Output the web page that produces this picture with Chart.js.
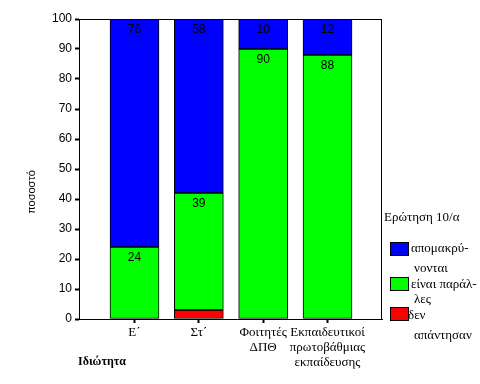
<!DOCTYPE html>
<html>
<head>
<meta charset="utf-8">
<script src="https://cdn.jsdelivr.net/npm/chart.js@4"></script>
<style>
html,body{margin:0;padding:0;background:#fff;}
#wrap{width:480px;height:384px;position:relative;}
</style>
</head>
<body>
<div id="wrap"><canvas id="c" width="480" height="384"></canvas></div>
<script>
const categories = [["Ε΄"], ["Στ΄"], ["Φοιτητές", "ΔΠΘ"], ["Εκπαιδευτικοί", "πρωτοβάθμιας", "εκπαίδευσης"]];
const noAnswer = [0, 3, 0, 0];
const parallel = [24, 39, 90, 88];
const diverge = [76, 58, 10, 12];
const yTicks = [0, 10, 20, 30, 40, 50, 60, 70, 80, 90, 100];
const seriesLabels = [["απομακρύ-", "νονται"], ["είναι παράλ-", "λες"], ["δεν", "απάντησαν"]];
const legendTitle = "Ερώτηση 10/α";
const xTitle = "Ιδιώτητα";
const yTitle = "ποσοστό";

const toPts = arr => arr.map((v, i) => ({x: i, y: v}));

const extras = {
  id: 'extras',
  afterDatasetsDraw(chart) {
    const ctx = chart.ctx;
    const a = chart.chartArea;
    ctx.save();
    ctx.strokeStyle = '#000';
    ctx.lineWidth = 1;
    ctx.strokeRect(Math.round(a.left) + 0.5, Math.round(a.top) + 0.5, Math.round(a.right - a.left) - 1, Math.round(a.bottom - a.top));
    ctx.fillStyle = '#000';
    ctx.font = '12px "Liberation Sans", Arial, sans-serif';
    ctx.textAlign = 'center';
    ctx.textBaseline = 'middle';
    [1, 2].forEach(di => {
      const meta = chart.getDatasetMeta(di);
      const ds = chart.data.datasets[di];
      meta.data.forEach((el, i) => {
        const v = ds.data[i].y;
        if (!v) return;
        ctx.fillText(String(v), el.x, el.y + 11);
      });
    });
    ctx.restore();
  },
  afterDraw(chart) {
    const ctx = chart.ctx;
    ctx.save();
    ctx.fillStyle = '#000';
    ctx.font = '11px "Liberation Sans", Arial, sans-serif';
    ctx.translate(32, 192);
    ctx.rotate(-Math.PI / 2);
    ctx.textAlign = 'center';
    ctx.textBaseline = 'middle';
    ctx.fillText(yTitle, 0, 0);
    ctx.setTransform(1, 0, 0, 1, 0, 0);
    ctx.font = 'bold 12px "Liberation Serif", "Times New Roman", serif';
    ctx.textAlign = 'left';
    ctx.fillText(xTitle, 78, 362);
    ctx.font = '13px "Liberation Serif", "Times New Roman", serif';
    ctx.fillText(legendTitle, 384, 218);
    const boxY = [242, 277, 307];
    const lineY = [[249, 269], [285, 300], [316, 336]];
    [2, 1, 0].forEach((di, k) => {
      const ds = chart.data.datasets[di];
      ctx.fillStyle = ds.backgroundColor;
      ctx.fillRect(390, boxY[k], 18, 13);
      ctx.strokeStyle = '#000';
      ctx.lineWidth = 1;
      ctx.strokeRect(390.5, boxY[k] + 0.5, 18, 13);
      ctx.fillStyle = '#000';
      const lab = seriesLabels[k];
      ctx.fillText(lab[0], k === 2 ? 408 : 411, lineY[k][0]);
      ctx.fillText(lab[1], 414, lineY[k][1]);
    });
    ctx.restore();
  }
};

new Chart(document.getElementById('c'), {
  type: 'bar',
  data: {
    datasets: [
      {label: 'δεν απάντησαν', data: toPts(noAnswer), backgroundColor: '#FF0000'},
      {label: 'είναι παράλλες', data: toPts(parallel), backgroundColor: '#00FF00'},
      {label: 'απομακρύνονται', data: toPts(diverge), backgroundColor: '#0000FF'}
    ].map(d => Object.assign(d, {borderColor: '#000', borderWidth: 1, borderSkipped: false, barThickness: 49}))
  },
  options: {
    responsive: false,
    animation: false,
    events: [],
    layout: {padding: {left: 0, top: 19, right: 98, bottom: 0}},
    plugins: {legend: {display: false}, tooltip: {enabled: false}},
    scales: {
      x: {
        type: 'linear',
        stacked: true,
        offset: false,
        min: -0.8627,
        max: 3.847,
        afterBuildTicks(scale) { scale.ticks = [0, 1, 2, 3].map(v => ({value: v})); },
        afterFit(scale) { scale.height = 65; },
        ticks: {
          autoSkip: false,
          maxRotation: 0,
          padding: 2,
          color: '#000',
          font: {family: '"Liberation Serif", "Times New Roman", serif', size: 13, lineHeight: 1.154},
          callback: v => categories[v]
        },
        grid: {offset: false, drawOnChartArea: false, tickLength: 4, tickWidth: 2, tickColor: '#000'},
        border: {display: true, color: '#000', width: 1}
      },
      y: {
        stacked: true,
        min: 0,
        max: 100,
        afterBuildTicks(scale) { scale.ticks = yTicks.map(v => ({value: v})); },
        afterFit(scale) { scale.width = 79; },
        ticks: {
          padding: 3,
          color: '#000',
          font: {family: '"Liberation Sans", Arial, sans-serif', size: 12}
        },
        grid: {offset: false, drawOnChartArea: false, tickLength: 4, tickWidth: 2, tickColor: '#000'},
        border: {display: true, color: '#000', width: 1}
      }
    }
  },
  plugins: [extras]
});
</script>
</body>
</html>
